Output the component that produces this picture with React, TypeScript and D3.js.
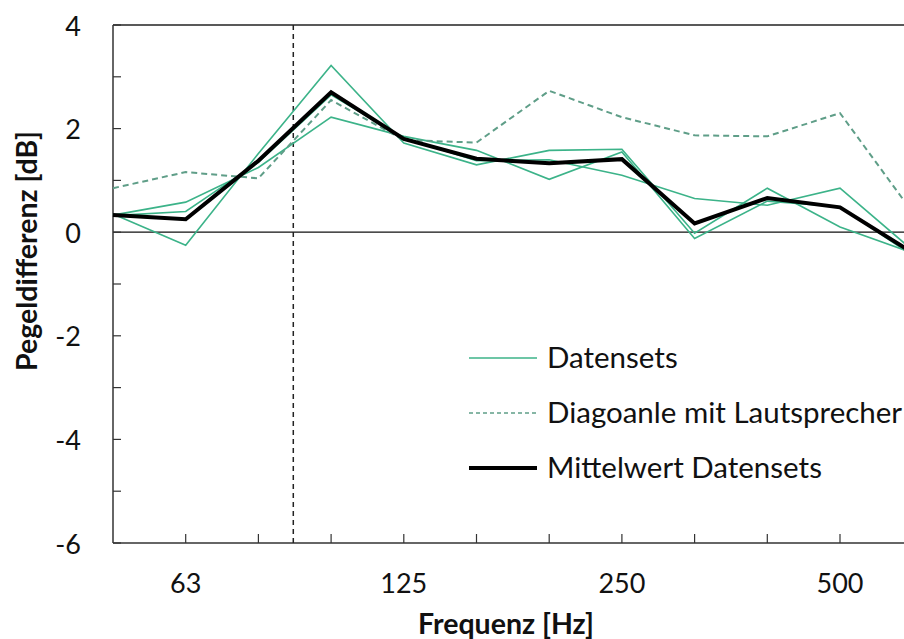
import React from "react";
import * as d3 from "d3";

const categories = ["50", "63", "80", "100", "125", "160", "200", "250", "315", "400", "500", "630"];
const labeledCategories = ["63", "125", "250", "500"];

const dataset1 = [0.33, 0.58, 1.25, 2.22, 1.85, 1.58, 1.02, 1.55, -0.12, 0.6, 0.49, -0.45];
const dataset2 = [0.35, -0.25, 1.52, 3.22, 1.72, 1.3, 1.58, 1.6, -0.02, 0.85, 0.1, -0.4];
const dataset3 = [0.32, 0.4, 1.35, 2.65, 1.82, 1.38, 1.4, 1.1, 0.65, 0.52, 0.85, -0.35];
const diagonal = [0.85, 1.16, 1.04, 2.55, 1.78, 1.73, 2.73, 2.22, 1.87, 1.85, 2.3, 0.38];
const mean = [0.33, 0.25, 1.38, 2.7, 1.8, 1.42, 1.33, 1.41, 0.17, 0.66, 0.48, -0.4];

const yTicks = [-6, -5, -4, -3, -2, -1, 0, 1, 2, 3, 4];
const yLabels = [-6, -4, -2, 0, 2, 4];
const markerPosition = 2.48; // vertical reference line, in category units (between 80 and 100 Hz)

const legendItems = [
  { label: "Datensets", kind: "data" },
  { label: "Diagoanle mit Lautsprecher", kind: "diag" },
  { label: "Mittelwert Datensets", kind: "mean" },
];

const W = 904;
const H = 639;
const left = 113;
const top = 25;
const bottom = 543;
const step = 72.7;
const right = left + step * (categories.length - 1);

const GREEN = "#3cb389";
const DASH_GREEN = "#5f9e88";
const FONT = "Lato, 'Open Sans', sans-serif";

export default function App() {
  const x = d3.scaleLinear().domain([0, categories.length - 1]).range([left, right]);
  const y = d3.scaleLinear().domain([-6, 4]).range([bottom, top]);
  const line = d3
    .line<number>()
    .x((_, i) => x(i))
    .y((d) => y(d));

  const datasets = [dataset1, dataset2, dataset3];

  return (
    <svg
      width={W}
      height={H}
      style={{ position: "absolute", left: 0, top: 0, background: "#fff" }}
      fontFamily={FONT}
    >
      <rect x={0} y={0} width={W} height={H} fill="#fff" />
      {/* plot border */}
      <line x1={left} x2={right} y1={top} y2={top} stroke="#222" strokeWidth={1.5} />
      <line x1={right} x2={right} y1={top} y2={bottom} stroke="#222" strokeWidth={1.5} />
      {/* zero line */}
      <line x1={left} x2={right} y1={y(0)} y2={y(0)} stroke="#111" strokeWidth={1.3} />
      {/* y axis */}
      <line x1={left} x2={left} y1={top} y2={bottom} stroke="#333" strokeWidth={1.5} />
      {yTicks.map((t) => (
        <line key={t} x1={left} x2={left + 8} y1={y(t)} y2={y(t)} stroke="#333" strokeWidth={1.2} />
      ))}
      {yLabels.map((t) => (
        <text
          key={t}
          x={81}
          y={y(t)}
          textAnchor="end"
          dominantBaseline="central"
          fontSize={27}
          fill="#111"
        >
          {t}
        </text>
      ))}
      {/* x axis */}
      <line x1={left} x2={right} y1={bottom} y2={bottom} stroke="#333" strokeWidth={1.5} />
      {categories.map((c, i) =>
        i === 0 ? null : (
          <line key={c} x1={x(i)} x2={x(i)} y1={bottom} y2={bottom - 9} stroke="#333" strokeWidth={1.2} />
        )
      )}
      {categories.map((c, i) =>
        labeledCategories.includes(c) ? (
          <text key={c} x={x(i)} y={593} textAnchor="middle" fontSize={27} fill="#111">
            {c}
          </text>
        ) : null
      )}
      {/* vertical reference line */}
      <line
        x1={x(markerPosition)}
        x2={x(markerPosition)}
        y1={top}
        y2={bottom}
        stroke="#222"
        strokeWidth={1.5}
        strokeDasharray="5,4"
      />
      {/* series */}
      {datasets.map((d, i) => (
        <path key={i} d={line(d) || ""} fill="none" stroke={GREEN} strokeWidth={1.6} />
      ))}
      <path d={line(diagonal) || ""} fill="none" stroke={DASH_GREEN} strokeWidth={2} strokeDasharray="6,4" />
      <path d={line(mean) || ""} fill="none" stroke="#000" strokeWidth={4} strokeLinejoin="miter" />
      {/* axis titles */}
      <text x={506} y={634} textAnchor="middle" fontSize={28.5} fontWeight="bold" fill="#111">
        Frequenz [Hz]
      </text>
      <text
        transform={`translate(37,251) rotate(-90)`}
        textAnchor="middle"
        fontSize={28.5}
        fontWeight="bold"
        fill="#111"
      >
        Pegeldifferenz [dB]
      </text>
      {/* legend */}
      {legendItems.map((item, i) => {
        const ly = 358 + i * 55;
        const stroke = item.kind === "mean" ? "#000" : item.kind === "diag" ? DASH_GREEN : GREEN;
        const sw = item.kind === "mean" ? 4 : item.kind === "diag" ? 1.5 : 1.6;
        return (
          <g key={item.label}>
            <line
              x1={469}
              x2={537}
              y1={ly}
              y2={ly}
              stroke={stroke}
              strokeWidth={sw}
              strokeDasharray={item.kind === "diag" ? "4,3" : undefined}
            />
            <text x={547} y={ly + 10} fontSize={29.5} fill="#111">
              {item.label}
            </text>
          </g>
        );
      })}
    </svg>
  );
}
